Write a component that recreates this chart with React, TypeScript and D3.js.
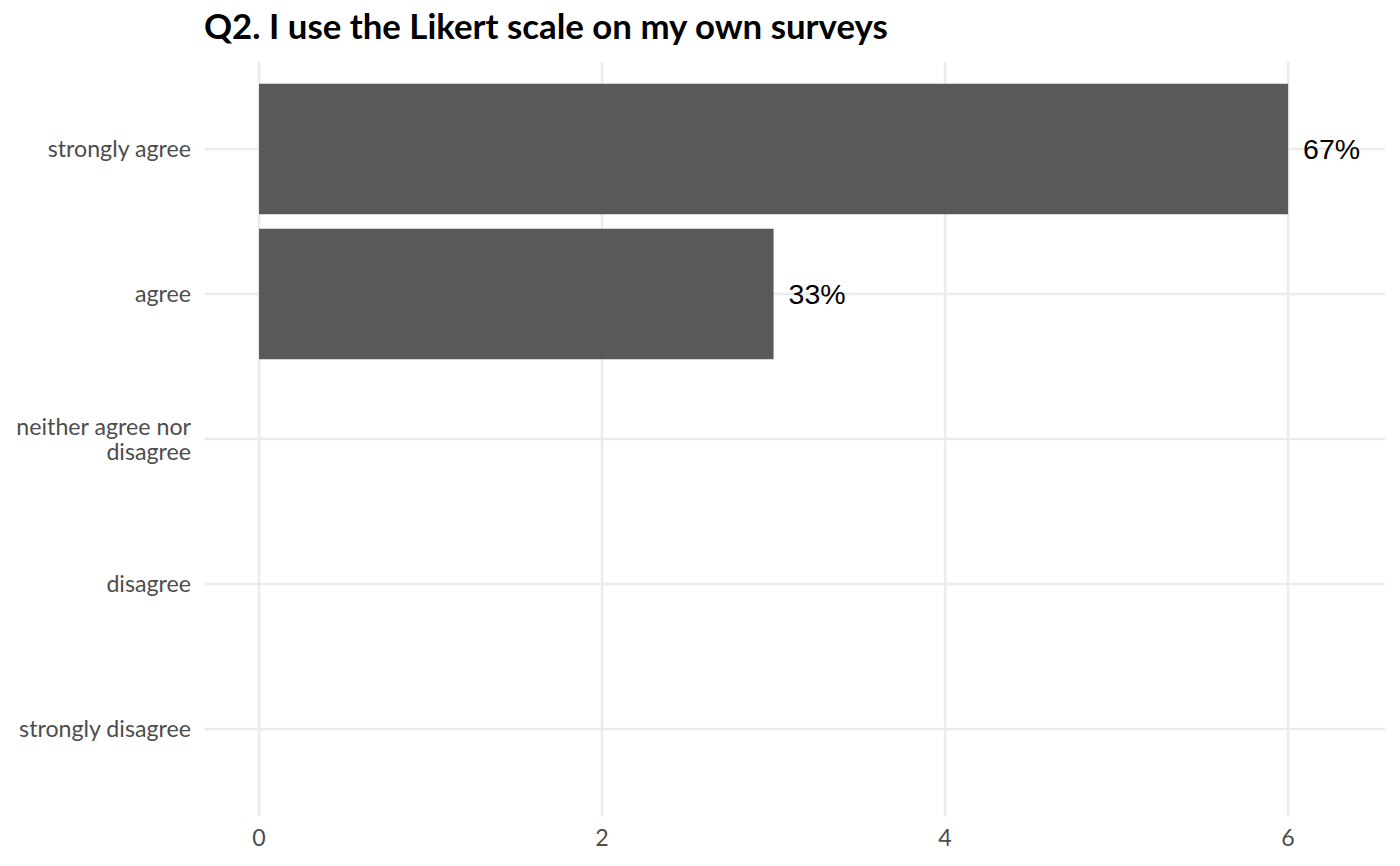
import React, { useEffect, useRef } from "react";
import * as d3 from "d3";

const categories = [
  "strongly agree",
  "agree",
  "neither agree nor disagree",
  "disagree",
  "strongly disagree",
];
const counts = [6, 3, 0, 0, 0];
const labels = ["67%", "33%", "", "", ""];
const xTicks = [0, 2, 4, 6];
const title = "Q2. I use the Likert scale on my own surveys";

export default function App() {
  const ref = useRef<SVGSVGElement>(null);

  useEffect(() => {
    const width = 1400;
    const height = 866;
    const left = 205;
    const right = 1385;
    const top = 62;
    const bottom = 816;

    const svg = d3.select(ref.current);
    svg.selectAll("*").remove();
    svg.attr("width", width).attr("height", height).attr("viewBox", [0, 0, width, height]);

    const x = d3.scaleLinear([-0.315, 6.565], [left, right]);
    // ggplot style discrete expansion: 0.6 of a step at each end
    const step = (bottom - top) / (categories.length - 1 + 1.2);
    const y = d3
      .scalePoint<string>()
      .domain(categories)
      .range([top + 0.6 * step, bottom - 0.6 * step]);
    const barH = step * 0.9;

    svg.append("rect").attr("width", width).attr("height", height).attr("fill", "white");

    // grid lines
    svg
      .append("g")
      .selectAll("line")
      .data(xTicks)
      .join("line")
      .attr("x1", (d) => x(d))
      .attr("x2", (d) => x(d))
      .attr("y1", top)
      .attr("y2", bottom)
      .attr("stroke", "#ebebeb")
      .attr("stroke-width", 2.6);

    svg
      .append("g")
      .selectAll("line")
      .data(categories)
      .join("line")
      .attr("x1", left)
      .attr("x2", right)
      .attr("y1", (d) => y(d)!)
      .attr("y2", (d) => y(d)!)
      .attr("stroke", "#ebebeb")
      .attr("stroke-width", 2.6);

    // bars
    svg
      .append("g")
      .selectAll("rect")
      .data(categories.map((c, i) => ({ c, v: counts[i] })).filter((d) => d.v > 0))
      .join("rect")
      .attr("x", x(0))
      .attr("y", (d) => y(d.c)! - barH / 2)
      .attr("width", (d) => x(d.v) - x(0))
      .attr("height", barH)
      .attr("fill", "#595959");

    // value labels
    svg
      .append("g")
      .selectAll("text")
      .data(categories.map((c, i) => ({ c, v: counts[i], l: labels[i] })).filter((d) => d.l))
      .join("text")
      .attr("x", (d) => x(d.v) + 15)
      .attr("y", (d) => y(d.c)!)
      .attr("dy", "0.36em")
      .attr("font-family", "'Liberation Sans', Arial, sans-serif")
      .attr("font-size", 28.5)
      .attr("fill", "black")
      .text((d) => d.l);

    // y axis labels
    const yl = svg
      .append("g")
      .attr("font-family", "Lato, sans-serif")
      .attr("font-size", 23.2)
      .attr("fill", "#4d4d4d")
      .attr("text-anchor", "end");
    categories.forEach((c) => {
      const words = c === "neither agree nor disagree" ? ["neither agree nor", "disagree"] : [c];
      const lh = 25;
      const t = yl.append("text").attr("x", 191).attr("y", y(c)!);
      words.forEach((w, i) => {
        t.append("tspan")
          .attr("x", 191)
          .attr("y", y(c)! + (i - (words.length - 1) / 2) * lh)
          .attr("dy", "0.36em")
          .text(w);
      });
    });

    // x axis labels
    svg
      .append("g")
      .attr("font-family", "Lato, sans-serif")
      .attr("font-size", 23.2)
      .attr("fill", "#4d4d4d")
      .attr("text-anchor", "middle")
      .selectAll("text")
      .data(xTicks)
      .join("text")
      .attr("x", (d) => x(d))
      .attr("y", 838)
      .attr("dy", "0.36em")
      .text((d) => d);

    // title
    svg
      .append("text")
      .attr("x", 204)
      .attr("y", 39)
      .attr("font-family", "Lato, sans-serif")
      .attr("font-weight", "bold")
      .attr("font-size", 34.8)
      .attr("fill", "black")
      .text(title);
  }, []);

  return <svg ref={ref} style={{ display: "block", margin: -8 }} />;
}
